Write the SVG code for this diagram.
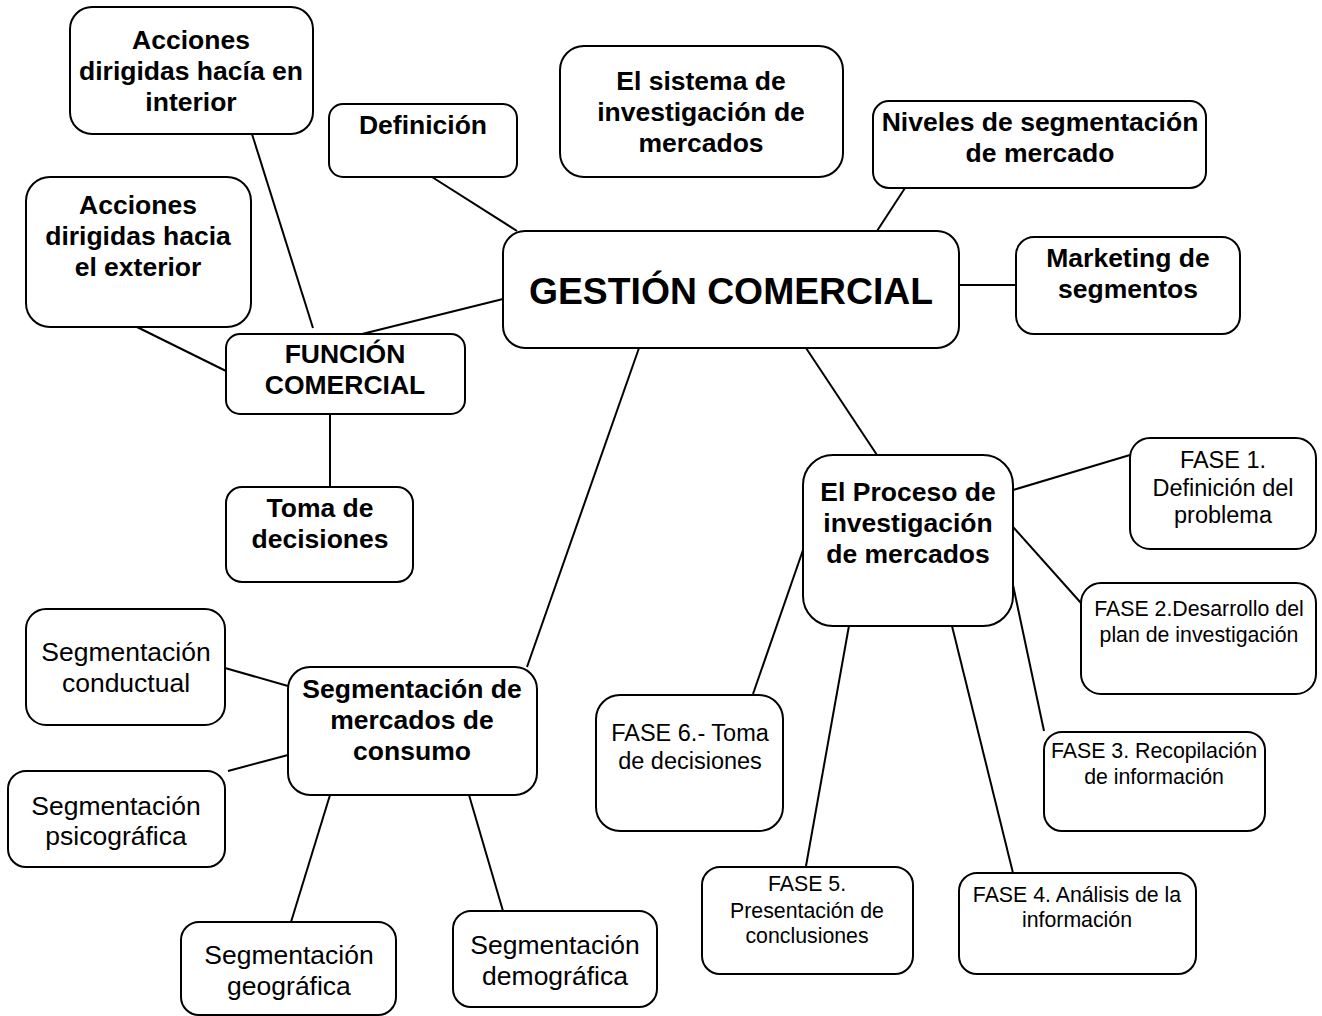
<svg xmlns="http://www.w3.org/2000/svg" width="1322" height="1016" viewBox="0 0 1322 1016">
<style>
.b{fill:#fff;stroke:#000;stroke-width:2}
.t{font-family:"Liberation Sans",Arial,sans-serif;fill:#000;text-anchor:middle}
.bd{font-weight:bold;font-size:26.5px}
.rg{font-size:26.5px}
.f1{font-size:23.5px}
.f2{font-size:21.3px}
.g{font-weight:bold;font-size:37.3px}
#connectors line{stroke:#000;stroke-width:2}
</style>
<rect width="1322" height="1016" fill="#fff"/>
<g id="connectors">
<line x1="252" y1="134" x2="313" y2="328"/>
<line x1="432" y1="177" x2="517" y2="231"/>
<line x1="137" y1="327" x2="226" y2="371"/>
<line x1="503" y1="299" x2="362" y2="334"/>
<line x1="905" y1="188" x2="877" y2="231"/>
<line x1="959" y1="285" x2="1016" y2="285"/>
<line x1="330" y1="414" x2="330" y2="487"/>
<line x1="639" y1="348" x2="527" y2="667"/>
<line x1="806" y1="348" x2="877" y2="455"/>
<line x1="1013" y1="490" x2="1130" y2="455"/>
<line x1="1013" y1="527" x2="1081" y2="603"/>
<line x1="1013" y1="585" x2="1044" y2="731"/>
<line x1="952" y1="626" x2="1013" y2="873"/>
<line x1="850" y1="620" x2="806" y2="866"/>
<line x1="803" y1="550" x2="753" y2="694"/>
<line x1="225" y1="668" x2="288" y2="686"/>
<line x1="228" y1="771" x2="288" y2="755"/>
<line x1="330" y1="795" x2="291" y2="922"/>
<line x1="469" y1="795" x2="503" y2="911"/>
</g>
<g id="n-interior"><rect class="b" x="70" y="7" width="243" height="127" rx="22"/>
<text class="t bd" x="191" y="49">Acciones</text><text class="t bd" x="191" y="80">dirigidas hacía en</text><text class="t bd" x="191" y="111">interior</text></g>
<g id="n-definicion"><rect class="b" x="329" y="104" width="188" height="73" rx="14"/>
<text class="t bd" x="423" y="134">Definición</text></g>
<g id="n-exterior"><rect class="b" x="26" y="177" width="225" height="150" rx="24"/>
<text class="t bd" x="138" y="214">Acciones</text><text class="t bd" x="138" y="245">dirigidas hacia</text><text class="t bd" x="138" y="276">el exterior</text></g>
<g id="n-sistema"><rect class="b" x="560" y="46" width="283" height="131" rx="24"/>
<text class="t bd" x="701" y="90">El sistema de</text><text class="t bd" x="701" y="121">investigación de</text><text class="t bd" x="701" y="152">mercados</text></g>
<g id="n-niveles"><rect class="b" x="873" y="101" width="333" height="87" rx="16"/>
<text class="t bd" x="1040" y="131">Niveles de segmentación</text><text class="t bd" x="1040" y="162">de mercado</text></g>
<g id="n-gestion"><rect class="b" x="503" y="231" width="456" height="117" rx="22"/>
<text class="t g" x="731" y="304">GESTIÓN COMERCIAL</text></g>
<g id="n-marketing"><rect class="b" x="1016" y="237" width="224" height="97" rx="18"/>
<text class="t bd" x="1128" y="267">Marketing de</text><text class="t bd" x="1128" y="298">segmentos</text></g>
<g id="n-funcion"><rect class="b" x="226" y="334" width="239" height="80" rx="14"/>
<text class="t bd" x="345" y="363">FUNCIÓN</text><text class="t bd" x="345" y="394">COMERCIAL</text></g>
<g id="n-toma"><rect class="b" x="226" y="487" width="187" height="95" rx="16"/>
<text class="t bd" x="320" y="517">Toma de</text><text class="t bd" x="320" y="548">decisiones</text></g>
<g id="n-proceso"><rect class="b" x="803" y="455" width="210" height="171" rx="30"/>
<text class="t bd" x="908" y="501">El Proceso de</text><text class="t bd" x="908" y="532">investigación</text><text class="t bd" x="908" y="563">de mercados</text></g>
<g id="n-fase1"><rect class="b" x="1130" y="438" width="186" height="111" rx="20"/>
<text class="t f1" x="1223" y="468">FASE 1.</text><text class="t f1" x="1223" y="496">Definición del</text><text class="t f1" x="1223" y="523">problema</text></g>
<g id="n-fase2"><rect class="b" x="1081" y="583" width="235" height="111" rx="20"/>
<text class="t f2" x="1199" y="616">FASE 2.Desarrollo del</text><text class="t f2" x="1199" y="642">plan de investigación</text></g>
<g id="n-fase3"><rect class="b" x="1044" y="732" width="221" height="99" rx="18"/>
<text class="t f2" x="1154" y="758">FASE 3. Recopilación</text><text class="t f2" x="1154" y="784">de información</text></g>
<g id="n-fase4"><rect class="b" x="959" y="873" width="237" height="101" rx="18"/>
<text class="t f2" x="1077" y="902">FASE 4. Análisis de la</text><text class="t f2" x="1077" y="927">información</text></g>
<g id="n-fase5"><rect class="b" x="702" y="867" width="211" height="107" rx="18"/>
<text class="t f2" x="807" y="891">FASE 5.</text><text class="t f2" x="807" y="918">Presentación de</text><text class="t f2" x="807" y="943">conclusiones</text></g>
<g id="n-fase6"><rect class="b" x="596" y="695" width="187" height="136" rx="24"/>
<text class="t f1" x="690" y="741">FASE 6.- Toma</text><text class="t f1" x="690" y="769">de decisiones</text></g>
<g id="n-segmercados"><rect class="b" x="288" y="667" width="249" height="128" rx="22"/>
<text class="t bd" x="412" y="698">Segmentación de</text><text class="t bd" x="412" y="729">mercados de</text><text class="t bd" x="412" y="760">consumo</text></g>
<g id="n-conductual"><rect class="b" x="26" y="609" width="199" height="116" rx="20"/>
<text class="t rg" x="126" y="661">Segmentación</text><text class="t rg" x="126" y="692">conductual</text></g>
<g id="n-psico"><rect class="b" x="8" y="771" width="217" height="96" rx="18"/>
<text class="t rg" x="116" y="815">Segmentación</text><text class="t rg" x="116" y="845">psicográfica</text></g>
<g id="n-geog"><rect class="b" x="181" y="922" width="215" height="93" rx="18"/>
<text class="t rg" x="289" y="964">Segmentación</text><text class="t rg" x="289" y="995">geográfica</text></g>
<g id="n-demog"><rect class="b" x="453" y="911" width="204" height="96" rx="18"/>
<text class="t rg" x="555" y="954">Segmentación</text><text class="t rg" x="555" y="985">demográfica</text></g>
</svg>
